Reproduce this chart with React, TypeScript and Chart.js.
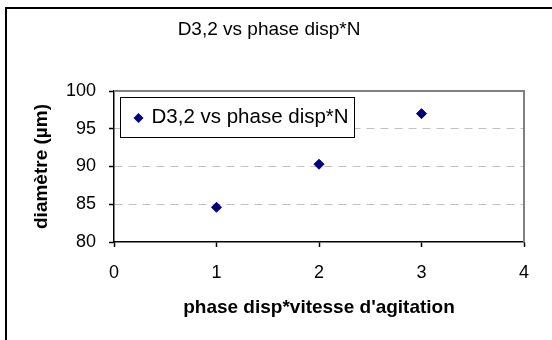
import React, { useEffect, useRef } from "react";
import { Chart, registerables } from "chart.js";

Chart.register(...registerables);

const FONT = "'Liberation Sans', Arial, sans-serif";

const chartTitle = "D3,2 vs phase disp*N";
const seriesLabel = "D3,2 vs phase disp*N";
const xAxisTitle = "phase disp*vitesse d'agitation";
const yAxisTitle = "diamètre (µm)";
const xValues = [1, 2, 3];
const yValues = [84.6, 90.3, 97.0];
const xTickValues = [0, 1, 2, 3, 4];
const yTickValues = [80, 85, 90, 95, 100];

const MARKER = "#000080";

const framePlugin = {
  id: "excelFrame",
  beforeDraw(chart: any) {
    const ctx = chart.ctx;
    ctx.save();
    ctx.fillStyle = "#ffffff";
    ctx.fillRect(0, 0, chart.width, chart.height);
    ctx.strokeStyle = "#000000";
    ctx.lineWidth = 2;
    ctx.beginPath();
    ctx.moveTo(6, chart.height + 2);
    ctx.lineTo(6, 8);
    ctx.lineTo(chart.width + 2, 8);
    ctx.stroke();
    ctx.restore();
  },
  beforeDatasetsDraw(chart: any) {
    const { ctx, chartArea: a } = chart;
    ctx.save();
    ctx.strokeStyle = "#808080";
    ctx.lineWidth = 2;
    ctx.beginPath();
    ctx.moveTo(a.left, a.top);
    ctx.lineTo(a.right, a.top);
    ctx.lineTo(a.right, a.bottom);
    ctx.stroke();
    ctx.restore();
  },
  afterDatasetsDraw(chart: any) {
    const { ctx, chartArea: a } = chart;
    const ds = chart.data.datasets[0];
    const bx = Math.round(a.left) + 6.5;
    const by = Math.round(a.top) + 6.5;
    const bw = 234;
    const bh = 40;
    ctx.save();
    ctx.fillStyle = "#ffffff";
    ctx.fillRect(bx, by, bw, bh);
    ctx.strokeStyle = "#000000";
    ctx.lineWidth = 1;
    ctx.strokeRect(bx, by, bw, bh);
    // marker
    const mx = bx + 18;
    const my = by + 20.5;
    const r = 5;
    ctx.fillStyle = ds.backgroundColor;
    ctx.beginPath();
    ctx.moveTo(mx - r, my);
    ctx.lineTo(mx, my - r);
    ctx.lineTo(mx + r, my);
    ctx.lineTo(mx, my + r);
    ctx.closePath();
    ctx.fill();
    // text
    ctx.fillStyle = "#000000";
    ctx.font = `20.5px ${FONT}`;
    ctx.textBaseline = "alphabetic";
    ctx.textAlign = "left";
    ctx.fillText(ds.label, bx + 31, by + 25);
    ctx.restore();
  },
};

export default function App() {
  const ref = useRef<HTMLCanvasElement | null>(null);

  useEffect(() => {
    if (!ref.current) return;
    const chart = new Chart(ref.current, {
      type: "scatter",
      data: {
        datasets: [
          {
            label: seriesLabel,
            data: xValues.map((x, i) => ({ x, y: yValues[i] })),
            backgroundColor: MARKER,
            borderColor: MARKER,
            borderWidth: 1,
            pointStyle: "rectRot",
            pointRadius: 5,
            pointHoverRadius: 5,
            showLine: false,
          },
        ],
      },
      options: {
        responsive: false,
        animation: false,
        events: [],
        layout: { padding: { left: 0, right: 14, top: 0, bottom: 0 } },
        plugins: {
          legend: { display: false },
          tooltip: { enabled: false },
          title: {
            display: true,
            text: chartTitle,
            color: "#000000",
            font: { family: FONT, size: 19, weight: "normal" },
            padding: { top: 18.6, bottom: 49.6 },
          },
        },
        scales: {
          x: {
            type: "linear",
            min: 0,
            max: 4,
            afterBuildTicks: (s: any) => {
              s.ticks = xTickValues.map((v) => ({ value: v }));
            },
            afterFit: (s: any) => {
              s.height = 98;
              s.paddingRight = 28;
            },
            grid: {
              drawOnChartArea: false,
              drawTicks: true,
              tickLength: 5,
              tickColor: "#000000",
              tickWidth: 1.5,
            },
            border: { display: true, color: "#000000", width: 1.5 },
            ticks: {
              color: "#000000",
              padding: 15,
              font: { family: FONT, size: 18 },
              maxRotation: 0,
            },
            title: {
              display: true,
              text: xAxisTitle,
              color: "#000000",
              font: { family: FONT, size: 19, weight: "bold" },
              padding: { top: 0, bottom: 21 },
            },
          },
          y: {
            type: "linear",
            min: 80,
            max: 100,
            afterBuildTicks: (s: any) => {
              s.ticks = yTickValues.map((v) => ({ value: v }));
            },
            afterFit: (s: any) => {
              s.width = 114;
            },
            grid: {
              color: (c: any) =>
                c.tick && (c.tick.value === 80 || c.tick.value === 100)
                  ? "rgba(0,0,0,0)"
                  : "#c0c0c0",
              lineWidth: 1,
              drawTicks: true,
              tickLength: 5,
              tickColor: "#000000",
              tickWidth: 1.5,
              tickBorderDash: [],
            },
            border: { display: true, color: "#000000", width: 1.5, dash: [] },
            ticks: {
              color: "#000000",
              padding: 13,
              font: { family: FONT, size: 18 },
            },
            title: {
              display: true,
              text: yAxisTitle,
              color: "#000000",
              font: { family: FONT, size: 19, weight: "bold" },
              padding: { top: 30, bottom: 0 },
            },
          },
        },
      },
      plugins: [framePlugin],
    } as any);
    // dashed grid lines
    (chart.options.scales as any).y.grid.borderDash = [8, 6];
    (chart.options.scales as any).y.border.dash = [8, 6];
    chart.update();
    return () => chart.destroy();
  }, []);

  return (
    <div style={{ position: "fixed", left: 0, top: 0, width: 552, height: 340, background: "#fff" }}>
      <canvas ref={ref} width={552} height={340} style={{ display: "block", width: 552, height: 340 }} />
    </div>
  );
}
